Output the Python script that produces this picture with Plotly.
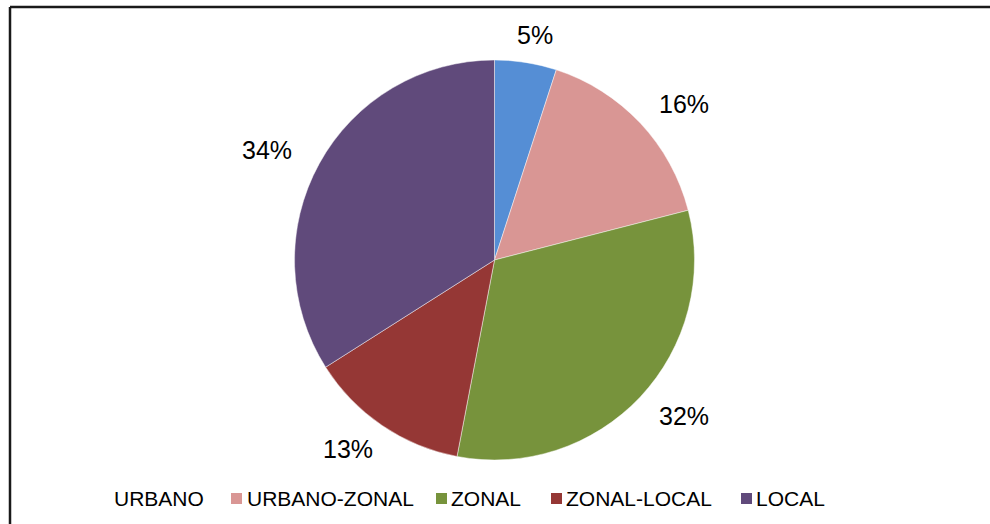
import math
import plotly.graph_objects as go

# ---- data ----
categories = ["URBANO", "URBANO-ZONAL", "ZONAL", "ZONAL-LOCAL", "LOCAL"]
values = [5, 16, 32, 13, 34]
colors = ["#558ED5", "#D99694", "#77933C", "#953735", "#604A7B"]

W, H = 990, 524
CX, CY, R = 494.5, 260.0, 200.0


def px(x):
    return x / W


def py(y):
    return 1 - y / H


fig = go.Figure(
    go.Pie(
        labels=categories,
        values=values,
        sort=False,
        direction="clockwise",
        rotation=0,
        marker=dict(colors=colors, line=dict(color="rgba(255,255,255,0.45)", width=1)),
        textinfo="none",
        hoverinfo="label+percent",
        showlegend=False,
        domain=dict(x=[px(CX - R), px(CX + R)], y=[py(CY + R), py(CY - R)]),
    )
)

annotations = []
shapes = []

# percentage labels placed outside, from the slice mid-angles
total = sum(values)
cum = 0
for v in values:
    mid = (cum + v / 2) / total * 2 * math.pi
    cum += v
    s, c = math.sin(mid), math.cos(mid)
    lx = CX + (R + 60) * s
    ly = CY - (R + 28) * c
    annotations.append(
        dict(
            x=px(lx), y=py(ly), xref="paper", yref="paper",
            text=f"{round(v / total * 100)}%", showarrow=False,
            xanchor="center", yanchor="middle",
            font=dict(family="Liberation Sans, Arial, sans-serif", size=25, color="#000000"),
        )
    )

# manual legend (first entry shows no marker in the reference)
legend_text_x = [112, 245, 449, 564, 754]
legend_marker_x = [None, 231, 436, 551, 741]
LEG_Y = 498
for name, col, tx, mx in zip(categories, colors, legend_text_x, legend_marker_x):
    annotations.append(
        dict(
            x=px(tx), y=py(LEG_Y), xref="paper", yref="paper",
            text=name, showarrow=False, xanchor="left", yanchor="middle",
            font=dict(family="Liberation Sans, Arial, sans-serif", size=21, color="#000000"),
        )
    )
    if mx is not None:
        shapes.append(
            dict(
                type="rect", xref="paper", yref="paper",
                x0=px(mx), x1=px(mx + 11), y0=py(LEG_Y + 6), y1=py(LEG_Y - 5),
                fillcolor=col, line=dict(width=0),
            )
        )

# chart frame (top and left edges visible)
shapes.append(dict(type="line", xref="paper", yref="paper",
                   x0=px(10), x1=px(995), y0=py(7), y1=py(7),
                   line=dict(color="#1a1a1a", width=2.5)))
shapes.append(dict(type="line", xref="paper", yref="paper",
                   x0=px(10), x1=px(10), y0=py(7), y1=py(530),
                   line=dict(color="#1a1a1a", width=2.5)))

fig.update_layout(
    width=W, height=H,
    margin=dict(l=0, r=0, t=0, b=0),
    paper_bgcolor="white", plot_bgcolor="white",
    annotations=annotations, shapes=shapes,
)

fig.write_html("out.html", config={"displayModeBar": False},
               post_script="document.body.style.margin='0';")
